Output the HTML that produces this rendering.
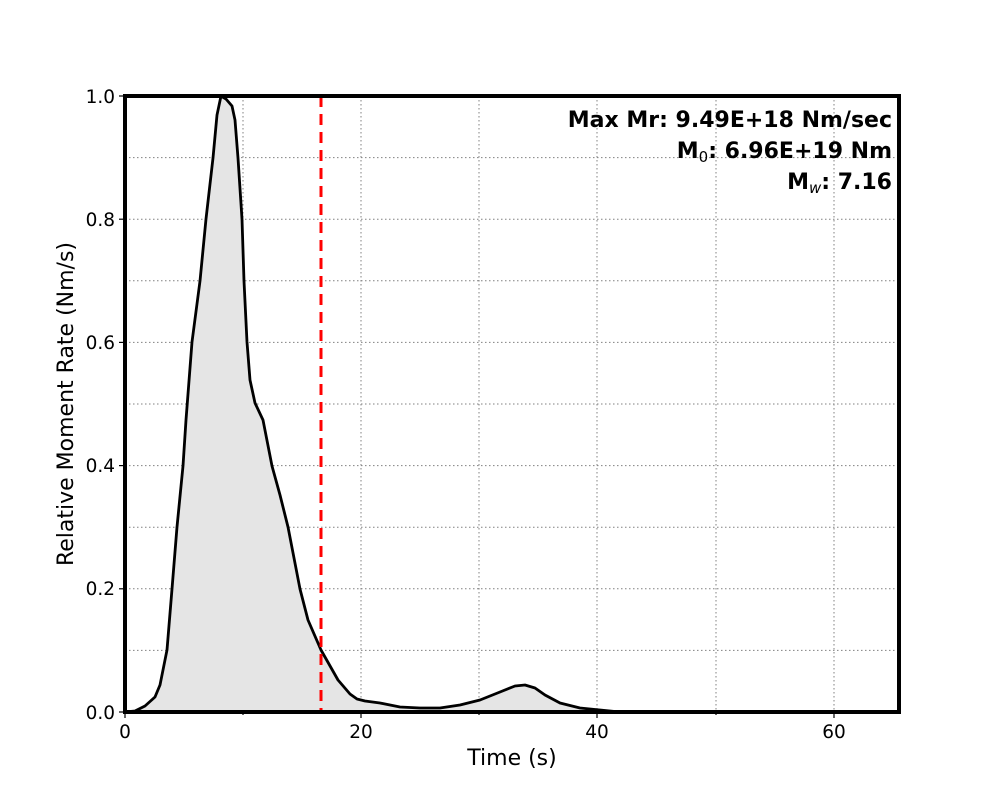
<!DOCTYPE html>
<html><head><style>body{margin:0;background:#fff}svg{display:block}</style></head><body>
<svg width="1000" height="800" xmlns="http://www.w3.org/2000/svg" font-family="DejaVu Sans, sans-serif">
<rect width="1000" height="800" fill="#fff"/>
<g stroke="#808080" stroke-width="1" stroke-dasharray="1.5,2.5">
<line x1="243" y1="96" x2="243" y2="712"/><line x1="361" y1="96" x2="361" y2="712"/><line x1="479" y1="96" x2="479" y2="712"/><line x1="597" y1="96" x2="597" y2="712"/><line x1="716" y1="96" x2="716" y2="712"/><line x1="834" y1="96" x2="834" y2="712"/>
<line x1="125" y1="650.4" x2="899" y2="650.4"/><line x1="125" y1="588.8" x2="899" y2="588.8"/><line x1="125" y1="527.2" x2="899" y2="527.2"/><line x1="125" y1="465.6" x2="899" y2="465.6"/><line x1="125" y1="404" x2="899" y2="404"/><line x1="125" y1="342.4" x2="899" y2="342.4"/><line x1="125" y1="280.8" x2="899" y2="280.8"/><line x1="125" y1="219.2" x2="899" y2="219.2"/><line x1="125" y1="157.6" x2="899" y2="157.6"/>
</g>
<path d="M125,712 L135,711 L145,706 L155,697 L160,685 L163,670 L167,650 L172,589 L177,527 L183,466 L186,420 L192,342 L200,281 L206,219 L213,158 L217,115 L221,96 L226,99 L232,106 L235,120 L238,158 L242,219 L244,281 L247,342 L250,380 L255,403 L263,420 L272,466 L280,495 L288,527 L300,589 L308,620 L321,650 L338,680 L350,694 L357,699 L365,701 L380,703 L400,707 L420,708 L440,708 L460,705 L480,700 L500,692 L515,686 L525,685 L535,688 L545,695 L560,703 L580,708 L600,710 L620,712 L899,712 Z" fill="#e5e5e5" stroke="#000" stroke-width="2.8" stroke-linejoin="round"/>
<line x1="321" y1="96" x2="321" y2="712" stroke="#ff0000" stroke-width="3" stroke-dasharray="11,7"/>
<rect x="125" y="96" width="774" height="616" fill="none" stroke="#000" stroke-width="4"/>
<g stroke="#000" stroke-width="1.2">
<line x1="125" y1="712" x2="125" y2="718"/><line x1="361" y1="712" x2="361" y2="718"/><line x1="597" y1="712" x2="597" y2="718"/><line x1="834" y1="712" x2="834" y2="718"/>
<line x1="243" y1="712" x2="243" y2="715"/><line x1="479" y1="712" x2="479" y2="715"/><line x1="716" y1="712" x2="716" y2="715"/>
<line x1="119" y1="712" x2="125" y2="712"/><line x1="119" y1="588.8" x2="125" y2="588.8"/><line x1="119" y1="465.6" x2="125" y2="465.6"/><line x1="119" y1="342.4" x2="125" y2="342.4"/><line x1="119" y1="219.2" x2="125" y2="219.2"/><line x1="119" y1="96" x2="125" y2="96"/>
</g>
<g font-size="18.5" fill="#000" text-anchor="middle">
<text x="125" y="738">0</text><text x="361" y="738">20</text><text x="597" y="738">40</text><text x="834" y="738">60</text>
</g>
<g font-size="18.5" fill="#000" text-anchor="end">
<text x="115" y="719">0.0</text><text x="115" y="595">0.2</text><text x="115" y="472">0.4</text><text x="115" y="349">0.6</text><text x="115" y="226">0.8</text><text x="115" y="103">1.0</text>
</g>
<text x="512" y="765" font-size="22" text-anchor="middle">Time (s)</text>
<text transform="translate(73,404) rotate(-90)" font-size="22" text-anchor="middle">Relative Moment Rate (Nm/s)</text>
<g font-size="22" font-weight="bold" text-anchor="end">
<text x="892" y="127">Max Mr: 9.49E+18 Nm/sec</text>
<text x="892" y="158">M<tspan font-size="15" font-weight="normal" dy="4">0</tspan><tspan dy="-4">: 6.96E+19 Nm</tspan></text>
<text x="892" y="189">M<tspan font-size="15" font-weight="normal" font-style="italic" dy="4">w</tspan><tspan dy="-4">: 7.16</tspan></text>
</g>
</svg>
</body></html>
